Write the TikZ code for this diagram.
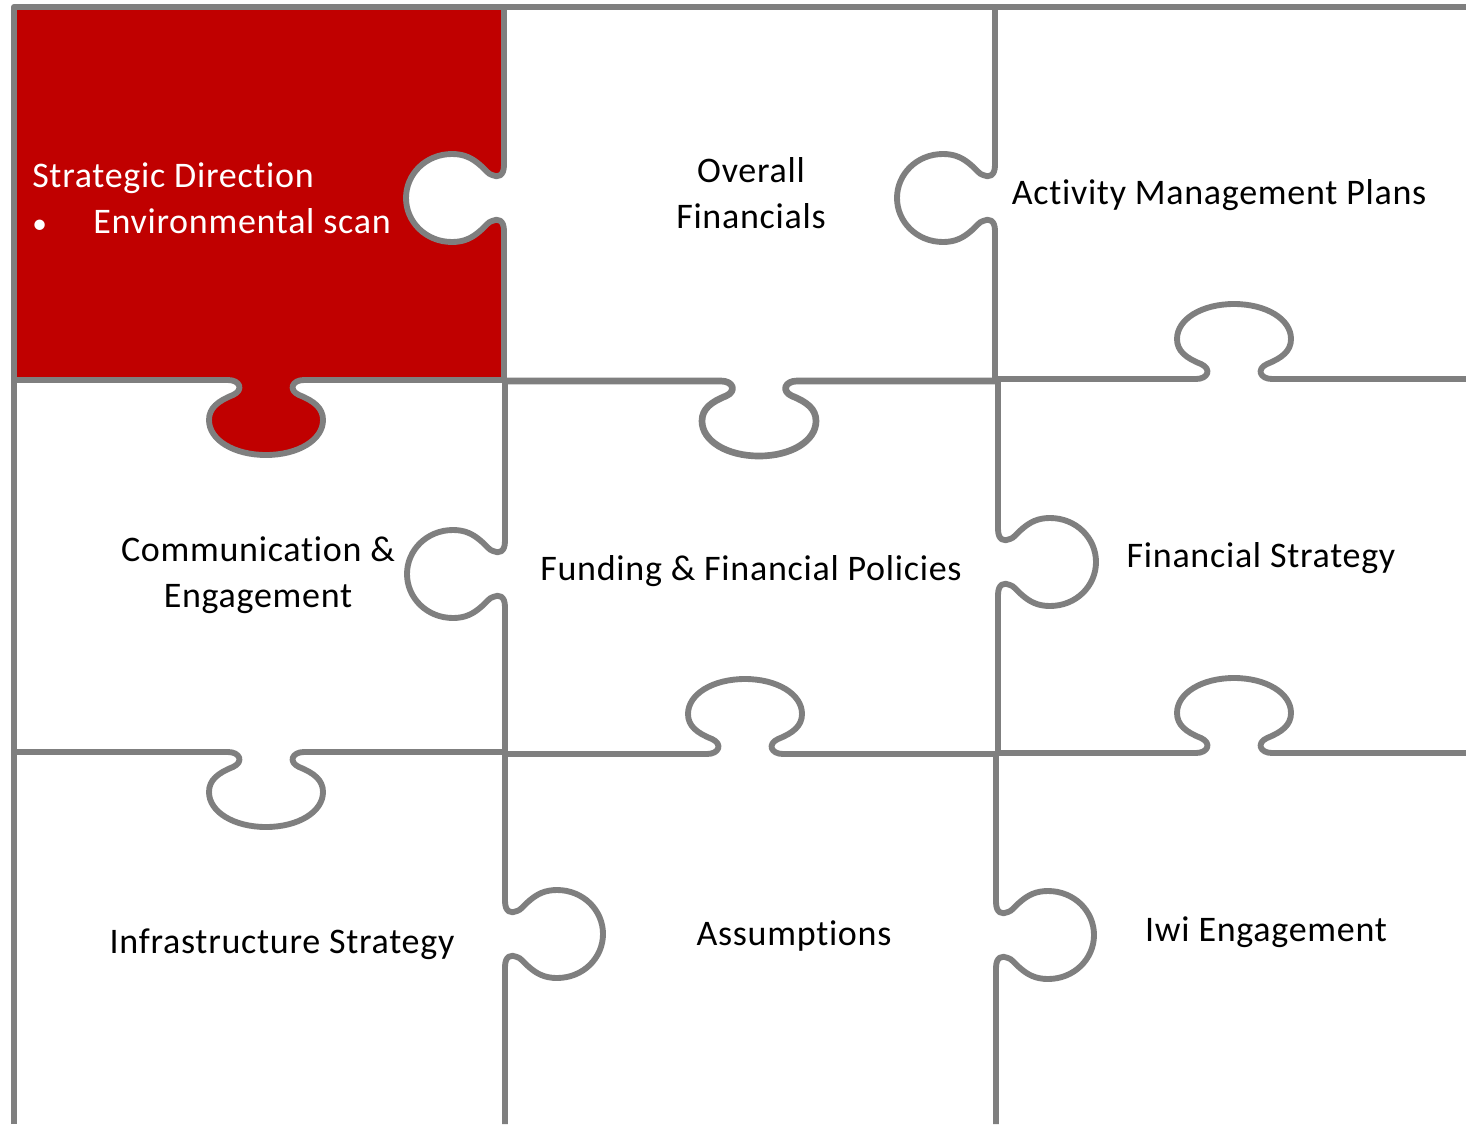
\documentclass[tikz,border=0pt]{standalone}
\usepackage{fontspec}
\setmainfont{Carlito}[LetterSpace=2,Ligatures=NoCommon]
\definecolor{pieceline}{HTML}{7F7F7F}
\definecolor{piecered}{HTML}{C00000}
% vertical knob: centre (x,y), side s (+1 right, -1 left)
\newcommand\vknob[3]{
 -- ({#1},{#2-33})
 .. controls ({#1},{#2-22}) and ({#1+#3*6},{#2-20}) .. ({#1+#3*12},{#2-23})
 .. controls ({#1+#3*16},{#2-24}) and ({#1+#3*18},{#2-28}) .. ({#1+#3*24},{#2-33})
 .. controls ({#1+#3*32},{#2-40}) and ({#1+#3*40},{#2-44}) .. ({#1+#3*52},{#2-44})
 .. controls ({#1+#3*78},{#2-44}) and ({#1+#3*98},{#2-24}) .. ({#1+#3*98},{#2})
 .. controls ({#1+#3*98},{#2+24}) and ({#1+#3*78},{#2+44}) .. ({#1+#3*52},{#2+44})
 .. controls ({#1+#3*40},{#2+44}) and ({#1+#3*32},{#2+40}) .. ({#1+#3*24},{#2+33})
 .. controls ({#1+#3*18},{#2+28}) and ({#1+#3*16},{#2+24}) .. ({#1+#3*12},{#2+23})
 .. controls ({#1+#3*6},{#2+20}) and ({#1},{#2+22}) .. ({#1},{#2+33})
}
% horizontal knob: centre (x,y), side s (+1 down, -1 up)
\newcommand\hknob[3]{
 -- ({#1-38},{#2})
 .. controls ({#1-26},{#2}) and ({#1-22},{#2+#3*10}) .. ({#1-33},{#2+#3*15})
 .. controls ({#1-48},{#2+#3*21}) and ({#1-57},{#2+#3*28}) .. ({#1-57},{#2+#3*40})
 .. controls ({#1-57},{#2+#3*60}) and ({#1-32},{#2+#3*75}) .. ({#1},{#2+#3*75})
 .. controls ({#1+32},{#2+#3*75}) and ({#1+57},{#2+#3*60}) .. ({#1+57},{#2+#3*40})
 .. controls ({#1+57},{#2+#3*28}) and ({#1+48},{#2+#3*21}) .. ({#1+33},{#2+#3*15})
 .. controls ({#1+22},{#2+#3*10}) and ({#1+26},{#2}) .. ({#1+38},{#2})
}
\tikzset{
 seam/.style={draw=pieceline,line width=4.4pt,line join=round},
 thickseam/.style={seam,line width=5pt},
 label/.style={font=\fontsize{27}{34.5}\selectfont,inner sep=0pt,align=center,text=black},
 redlabel/.style={label,align=left,text=white,anchor=west},
}
\begin{document}
\begin{tikzpicture}[x=0.75pt,y=-0.75pt]
\useasboundingbox (0,0) rectangle (1466,1124);
\fill[white] (0,0) rectangle (1466,1124);
% red piece
\fill[piecered] (14,7) rectangle (504,380);
\fill[white] (504,130) \vknob{504}{198}{-1} -- (504,260) -- (520,260) -- (520,130) -- cycle;
\fill[piecered] (200,380) \hknob{266}{380}{1} -- (330,380) -- (330,370) -- (200,370) -- cycle;
% outer edges
\draw[seam,line cap=butt] (14,1124) -- (14,7) -- (1466,7);
% verticals
\draw[seam] (504,7) \vknob{504}{198}{-1} -- (504,380);
\draw[seam] (995,7) \vknob{995}{198}{-1} -- (995,380);
\draw[seam] (505,380) \vknob{505}{574}{-1} -- (505,754);
\draw[seam] (998,380) \vknob{998}{562}{1} -- (998,754);
\draw[seam] (505,754) \vknob{505}{934}{1} -- (505,1124);
\draw[seam] (996,754) \vknob{996}{935}{1} -- (996,1124);
% horizontals
\draw[seam] (14,380) \hknob{266}{380}{1} -- (504,380);
\draw[thickseam] (505,381) \hknob{759}{381}{1} -- (997,381);
\draw[seam] (997,379) \hknob{1234}{379}{-1} -- (1466,379);
\draw[seam] (14,752) \hknob{266}{752}{1} -- (505,752);
\draw[seam] (505,754) \hknob{745}{754}{-1} -- (997,754);
\draw[seam] (997,753) \hknob{1234}{753}{-1} -- (1466,753);
% labels
\node[redlabel] (strategic) at (32,198) {Strategic Direction\\\makebox[45.75pt][l]{{\fontsize{22}{22}\selectfont•}}Environmental scan};
\node[label] (overall) at (751,193) {Overall\\Financials};
\node[label] (activity) at (1219,195) {Activity Management Plans};
\node[label] (communication) at (258,575) {Communication \&\\Engagement};
\node[label] (funding) at (751,571) {Funding \& Financial Policies};
\node[label] (finstrategy) at (1261,558) {Financial Strategy};
\node[label] (infrastructure) at (282,944) {Infrastructure Strategy};
\node[label] (assumptions) at (794,936) {Assumptions};
\node[label] (iwi) at (1266,932) {Iwi Engagement};
\end{tikzpicture}
\end{document}
